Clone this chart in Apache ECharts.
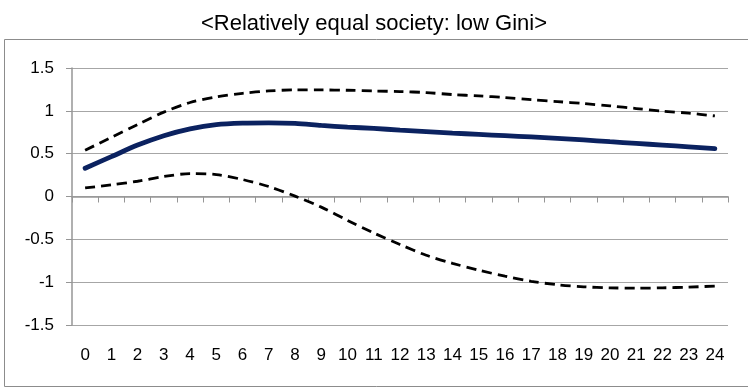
<!DOCTYPE html>
<html><head><meta charset="utf-8">
<script src="https://cdn.jsdelivr.net/npm/echarts@6/dist/echarts.min.js"></script>
<style>html,body{margin:0;padding:0;background:#fff}#c{width:748px;height:388px}</style>
</head><body><div id="c"></div>
<script>
const categories = ['0','1','2','3','4','5','6','7','8','9','10','11','12','13','14','15','16','17','18','19','20','21','22','23','24'];
const response = [0.33,0.465,0.60,0.71,0.79,0.84,0.857,0.86,0.853,0.83,0.81,0.795,0.775,0.757,0.74,0.725,0.71,0.695,0.678,0.66,0.64,0.62,0.60,0.58,0.56];
const upperBand = [0.54,0.69,0.84,0.985,1.097,1.163,1.205,1.232,1.244,1.244,1.24,1.232,1.225,1.213,1.19,1.174,1.155,1.13,1.108,1.085,1.058,1.027,0.997,0.973,0.94];
const lowerBand = [0.10,0.136,0.178,0.233,0.267,0.256,0.198,0.116,0.004,-0.124,-0.279,-0.426,-0.56,-0.686,-0.78,-0.86,-0.93,-0.99,-1.03,-1.054,-1.066,-1.07,-1.066,-1.058,-1.045];
const yTicks = {min:-1.5, max:1.5, interval:0.5};
const titleText = '<Relatively equal society: low Gini>';

const chart = echarts.init(document.getElementById('c'), null, {renderer:'canvas'});
const font = '"Liberation Sans",Arial,sans-serif';
chart.setOption({
  animation:false,
  backgroundColor:'#fff',
  title:{text:titleText,left:'center',top:8,textStyle:{fontFamily:font,fontSize:22,fontWeight:'normal',color:'#000'}},
  graphic:[{type:'rect',shape:{x:4.5,y:39.5,width:750,height:347},style:{fill:null,stroke:'#8c8c8c',lineWidth:1},z:-1}],
  grid:{left:72,right:20,top:68,bottom:63},
  xAxis:{type:'category',data:categories,boundaryGap:true,
    axisLine:{lineStyle:{color:'#969696',width:1.5}},
    axisTick:{show:true,alignWithLabel:false,length:6,lineStyle:{color:'#969696'}},
    axisLabel:{margin:22,fontFamily:font,fontSize:17,color:'#000'},
    splitLine:{show:false}},
  yAxis:{type:'value',min:yTicks.min,max:yTicks.max,interval:yTicks.interval,
    axisLine:{show:true,lineStyle:{color:'#969696',width:1.5}},
    axisTick:{show:true,length:6,lineStyle:{color:'#969696'}},
    axisLabel:{margin:18,fontFamily:font,fontSize:17,color:'#000'},
    splitLine:{lineStyle:{color:'#a6a6a6',width:1}}},
  series:[
    {type:'line',data:upperBand,smooth:0.3,symbol:'none',lineStyle:{color:'#000',width:2.8,type:[10,6]}},
    {type:'line',data:lowerBand,smooth:0.3,symbol:'none',lineStyle:{color:'#000',width:2.8,type:[10,6]}},
    {type:'line',data:response,smooth:0.3,symbol:'none',lineStyle:{color:'#0b2260',width:4.8,cap:'round'}}
  ]
});
</script></body></html>
